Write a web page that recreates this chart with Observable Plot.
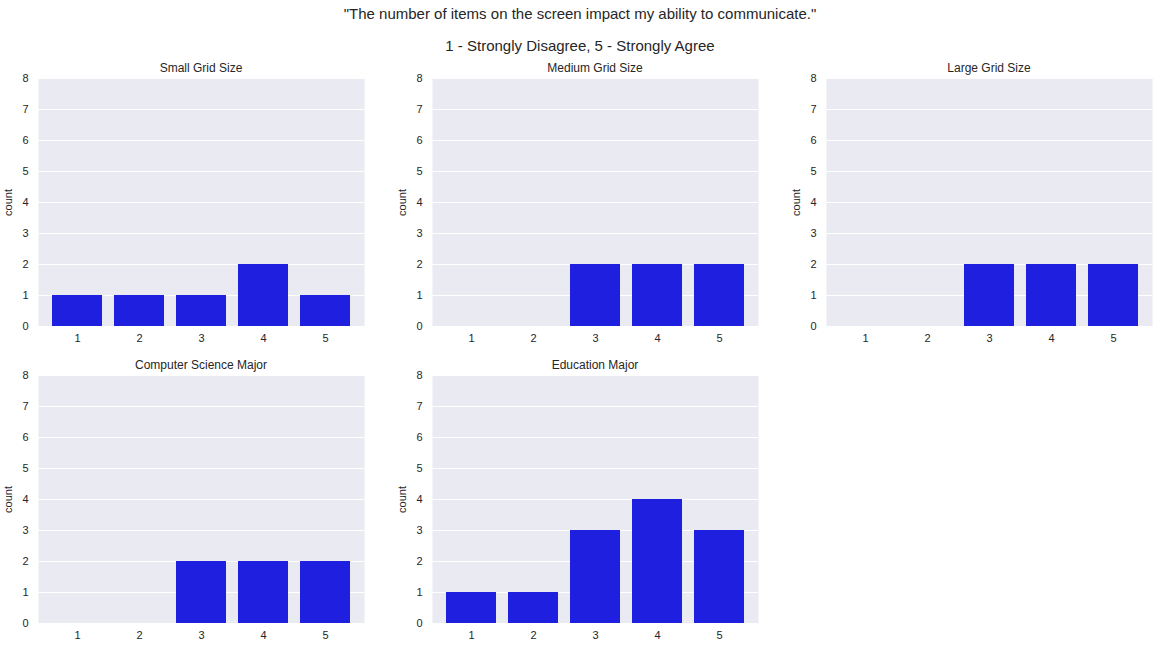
<!DOCTYPE html>
<html><head><meta charset="utf-8">
<script src="https://cdn.jsdelivr.net/npm/d3@7"></script>
<script src="https://cdn.jsdelivr.net/npm/@observablehq/plot@0.6"></script>
<style>
body{margin:0;background:#fff;font-family:"Liberation Sans",Arial,sans-serif;color:#262626}
#wrap{position:relative;width:1160px;height:649px}
.t{position:absolute;font-size:15px;width:1160px;text-align:center}
.pt{position:absolute;font-size:12px;text-align:center;width:326px}
.p{position:absolute}
</style></head><body>
<div id="wrap">
<div class="t" style="top:5px">"The number of items on the screen impact my ability to communicate."</div>
<div class="t" style="top:37px">1 - Strongly Disagree, 5 - Strongly Agree</div>
</div>
<script>
const ratings = [1, 2, 3, 4, 5];
const titles = ["Small Grid Size", "Medium Grid Size", "Large Grid Size", "Computer Science Major", "Education Major"];
const small = [1, 1, 1, 2, 1];
const medium = [0, 0, 2, 2, 2];
const large = [0, 0, 2, 2, 2];
const csMajor = [0, 0, 2, 2, 2];
const eduMajor = [1, 1, 3, 4, 3];
const series = [small, medium, large, csMajor, eduMajor];
const yTicks = [0, 1, 2, 3, 4, 5, 6, 7, 8];

const wrap = document.getElementById("wrap");
const lefts = [0, 394, 788];
const tops = [70, 367];
series.forEach((vals, i) => {
  const left = lefts[i % 3], top = tops[Math.floor(i / 3)];
  const data = ratings.map((r, j) => ({rating: r, count: vals[j]}));
  const plot = Plot.plot({
    width: 366, height: 279,
    marginLeft: 38, marginRight: 2, marginTop: 8, marginBottom: 23,
    style: {fontFamily: "'Liberation Sans', Arial, sans-serif", fontSize: "11px", color: "#262626", background: "transparent"},
    x: {domain: ratings, padding: 0.2, label: null},
    y: {domain: [0, 8], ticks: yTicks},
    marks: [
      Plot.frame({fill: "#eaeaf2", stroke: null}),
      Plot.gridY(yTicks, {stroke: "#fff", strokeOpacity: 1, strokeWidth: 1}),
      Plot.axisX({tickSize: 0, tickPadding: 8, label: null}),
      Plot.axisY(yTicks, {tickSize: 0, tickPadding: 10, label: "count", labelAnchor: "center", labelArrow: "none", labelOffset: 34, fontSize: 11}),
      Plot.barY(data, {x: "rating", y: "count", fill: "#1f1fe0"})
    ]
  });
  plot.classList.add("p");
  plot.style.left = left + "px"; plot.style.top = top + "px";
  wrap.append(plot);
  const t = document.createElement("div");
  t.className = "pt"; t.textContent = titles[i];
  t.style.left = (left + 38) + "px"; t.style.top = (top - 9) + "px";
  wrap.append(t);
});
</script>
</body></html>
